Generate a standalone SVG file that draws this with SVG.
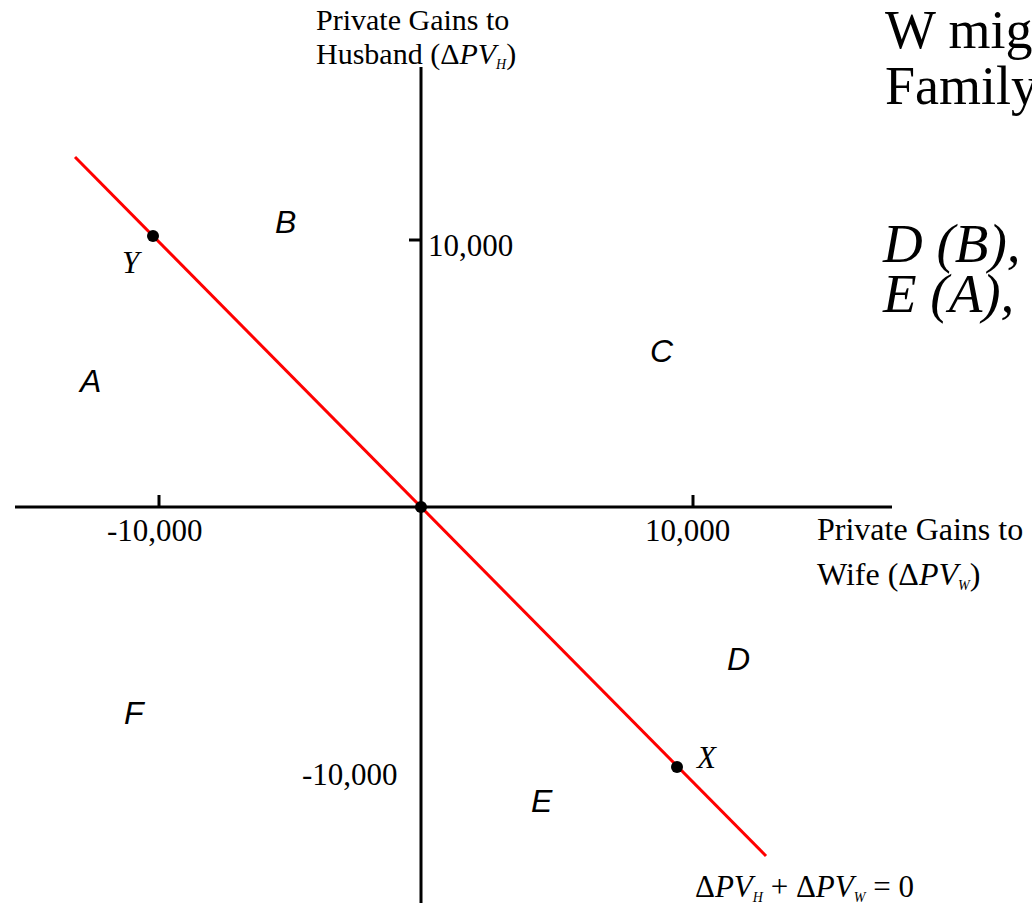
<svg xmlns="http://www.w3.org/2000/svg" width="1032" height="905" viewBox="0 0 1032 905">
<style>
.t{font-family:"Liberation Serif","Times New Roman",serif;font-size:31px;fill:#000}
.big{font-family:"Liberation Serif","Times New Roman",serif;font-size:54px;fill:#000}
.bigi{font-family:"Liberation Serif","Times New Roman",serif;font-size:55px;font-style:italic;fill:#000}
.reg{font-family:"Liberation Sans",Arial,sans-serif;font-size:32px;font-style:italic;fill:#000}
.i{font-style:italic}
.sub{font-style:italic;font-size:14px}
.ax{stroke:#000;stroke-width:3;fill:none}
.dot{fill:#000}
</style>
<rect width="1032" height="905" fill="#fff"/>
<g id="axes">
<line class="ax" x1="421" y1="67" x2="421" y2="903"/>
<line class="ax" x1="15" y1="507" x2="892" y2="507"/>
<line class="ax" x1="159" y1="495" x2="159" y2="507"/>
<line class="ax" x1="693" y1="495" x2="693" y2="507"/>
<line class="ax" x1="409" y1="240" x2="421" y2="240"/>
</g>
<g id="connectors">
<line x1="75" y1="157" x2="766" y2="856" stroke="#f00" stroke-width="3"/>
</g>
<g id="points">
<circle class="dot" cx="421" cy="507" r="6"/>
<circle class="dot" cx="153" cy="236" r="6"/>
<circle class="dot" cx="677" cy="767" r="6"/>
<text class="t i" x="122" y="273">Y</text>
<text class="t i" x="697" y="768">X</text>
</g>
<g id="yaxis-label">
<text class="t" x="316" y="30" style="font-size:30px">Private Gains to</text>
<text class="t" x="316" y="64" style="font-size:30px">Husband (Δ<tspan class="i">PV</tspan><tspan class="sub" dy="5">H</tspan><tspan dy="-5">)</tspan></text>
</g>
<g id="xaxis-label">
<text class="t" x="817" y="540" style="font-size:32px">Private Gains to</text>
<text class="t" x="817" y="585" style="font-size:32px">Wife (Δ<tspan class="i">PV</tspan><tspan class="sub" dy="5">W</tspan><tspan dy="-5">)</tspan></text>
</g>
<g id="ticks">
<text class="t" x="428" y="256">10,000</text>
<text class="t" x="302" y="785">-10,000</text>
<text class="t" x="107" y="541">-10,000</text>
<text class="t" x="645" y="541">10,000</text>
</g>
<g id="regions">
<text class="reg" x="275" y="233">B</text>
<text class="reg" x="650" y="362">C</text>
<text class="reg" x="80" y="392">A</text>
<text class="reg" x="727" y="670">D</text>
<text class="reg" x="124" y="724">F</text>
<text class="reg" x="531" y="812">E</text>
</g>
<g id="equation">
<text class="t" x="695" y="897">Δ<tspan class="i">PV</tspan><tspan class="sub" dy="5">H</tspan><tspan dy="-5"> + Δ</tspan><tspan class="i">PV</tspan><tspan class="sub" dy="5">W</tspan><tspan dy="-5"> = 0</tspan></text>
</g>
<g id="title">
<text class="big" x="885" y="48">W mig</text>
<text class="big" x="885" y="104">Family</text>
<text class="bigi" x="883" y="262">D (B),</text>
<text class="bigi" x="883" y="312">E (A),</text>
</g>
</svg>
